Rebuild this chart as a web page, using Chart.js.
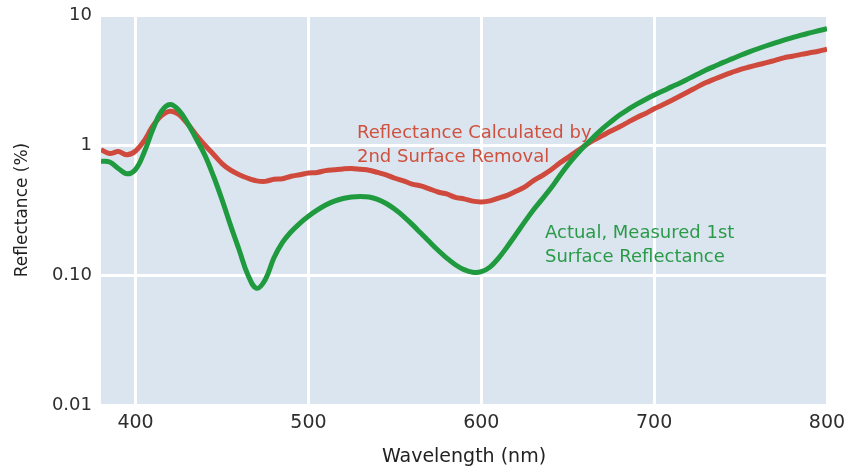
<!DOCTYPE html>
<html>
<head>
<meta charset="utf-8">
<script src="https://cdn.jsdelivr.net/npm/chart.js@4/dist/chart.umd.min.js"></script>
<style>
  body { margin: 0; background: #fff; }
  #wrap { width: 847px; height: 471px; }
</style>
</head>
<body>
<div id="wrap"><canvas id="grafico"></canvas></div>
<script>
// wavelength (nm)
const wavelengths = [380,385,390,395,400,405,410,415,420,425,430,435,440,445,450,455,460,465,470,475,
  480,485,490,495,500,505,510,515,520,525,530,535,540,545,550,555,560,565,570,575,
  580,585,590,595,600,605,610,615,620,625,630,635,640,645,650,655,660,665,670,675,
  680,685,690,695,700,705,710,715,720,725,730,735,740,745,750,755,760,765,770,775,
  780,785,790,795,800];

// Actual, measured 1st surface reflectance (%)
const measured = [0.75,0.74,0.66,0.60,0.65,0.88,1.32,1.82,2.05,1.85,1.48,1.12,0.84,0.58,0.38,0.24,0.155,0.10,0.079,0.092,
  0.135,0.178,0.215,0.25,0.283,0.315,0.345,0.37,0.388,0.398,0.402,0.398,0.382,0.355,0.32,0.283,0.245,0.21,0.18,0.155,
  0.135,0.12,0.11,0.105,0.106,0.115,0.135,0.165,0.205,0.255,0.315,0.38,0.46,0.57,0.70,0.84,0.99,1.15,1.33,1.51,
  1.70,1.88,2.06,2.24,2.42,2.6,2.8,3.0,3.24,3.5,3.78,4.04,4.32,4.6,4.9,5.2,5.5,5.8,6.1,6.4,
  6.7,7.0,7.28,7.56,7.85];

// reflectance calculated by 2nd surface removal (%)
const calculated = [0.92,0.86,0.89,0.84,0.90,1.08,1.40,1.68,1.82,1.72,1.46,1.20,1.00,0.85,0.72,0.64,0.59,0.555,0.53,0.525,
  0.545,0.55,0.575,0.59,0.61,0.615,0.635,0.645,0.655,0.66,0.65,0.64,0.615,0.59,0.555,0.53,0.50,0.485,0.46,0.435,
  0.42,0.395,0.385,0.37,0.365,0.372,0.39,0.41,0.44,0.475,0.53,0.58,0.64,0.72,0.80,0.89,0.99,1.09,1.18,1.28,
  1.38,1.5,1.63,1.75,1.9,2.04,2.2,2.38,2.58,2.8,3.02,3.22,3.42,3.62,3.82,3.98,4.14,4.3,4.48,4.68,
  4.82,4.98,5.12,5.26,5.45];

const xTicks = [400, 500, 600, 700, 800];
const yTicks = [0.01, 0.1, 1, 10];
const yTickLabels = ['0.01', '0.10', '1', '10'];

const FONTE = '"DejaVu Sans", sans-serif';

// fundo azul claro da área do gráfico
const fundo = {
  id: 'fundo',
  beforeDraw(chart) {
    const { ctx, chartArea: a } = chart;
    ctx.save();
    ctx.fillStyle = '#dae5f0';
    ctx.fillRect(a.left, a.top, a.right - a.left, a.bottom - a.top);
    ctx.restore();
  }
};

// textos das curvas
const rotulos = {
  id: 'rotulos',
  afterDatasetsDraw(chart) {
    const ctx = chart.ctx;
    ctx.save();
    ctx.font = '18px ' + FONTE;
    ctx.textAlign = 'left';
    ctx.textBaseline = 'alphabetic';
    ctx.fillStyle = '#d0503e';
    ctx.fillText('Reflectance Calculated by', 357, 138);
    ctx.fillText('2nd Surface Removal', 357, 162);
    ctx.fillStyle = '#2b9a48';
    ctx.fillText('Actual, Measured 1st', 545, 238);
    ctx.fillText('Surface Reflectance', 545, 262);
    ctx.restore();
  }
};

const toPts = arr => arr.map((v, i) => ({ x: wavelengths[i], y: v }));

const ctx = document.getElementById('grafico').getContext('2d');
const grafico = new Chart(ctx, {
  type: 'line',
  data: {
    datasets: [
      {
        label: 'Actual, Measured 1st Surface Reflectance',
        data: toPts(measured),
        borderColor: '#1f9a3e',
        borderWidth: 5,
        pointRadius: 0,
        tension: 0.4,
        fill: false
      },
      {
        label: 'Reflectance Calculated by 2nd Surface Removal',
        data: toPts(calculated),
        borderColor: '#cf4a3c',
        borderWidth: 5,
        pointRadius: 0,
        tension: 0.3,
        fill: false
      }
    ]
  },
  options: {
    responsive: true,
    maintainAspectRatio: false,
    animation: false,
    layout: { padding: { top: 15, right: 20, left: 0, bottom: 0 } },
    plugins: { legend: { display: false }, tooltip: { enabled: false } },
    scales: {
      x: {
        type: 'linear',
        min: 380,
        max: 800,
        afterBuildTicks: s => { s.ticks = xTicks.map(v => ({ value: v })); },
        afterFit: s => { s.height = 66; s.paddingLeft = 0; s.paddingRight = 0; },
        grid: { color: '#ffffff', lineWidth: 3, drawTicks: false },
        border: { display: false },
        ticks: { color: '#2e2e2e', font: { family: FONTE, size: 19 }, padding: 7 },
        title: {
          display: true,
          text: 'Wavelength (nm)',
          color: '#222',
          font: { family: FONTE, size: 19 },
          padding: { top: 0, bottom: 3 }
        }
      },
      y: {
        type: 'logarithmic',
        min: 0.01,
        max: 10,
        afterBuildTicks: s => { s.ticks = yTicks.map(v => ({ value: v })); },
        afterFit: s => { s.width = 101; s.paddingTop = 0; s.paddingBottom = 0; },
        grid: { color: '#ffffff', lineWidth: 3, drawTicks: false },
        border: { display: false },
        ticks: {
          color: '#2e2e2e',
          font: { family: FONTE, size: 18 },
          padding: 9,
          callback: v => yTickLabels[yTicks.indexOf(v)] ?? ''
        },
        title: {
          display: true,
          text: 'Reflectance (%)',
          color: '#222',
          font: { family: FONTE, size: 17 },
          padding: { top: 12, bottom: 0 }
        }
      }
    }
  },
  plugins: [fundo, rotulos]
});
</script>
</body>
</html>
